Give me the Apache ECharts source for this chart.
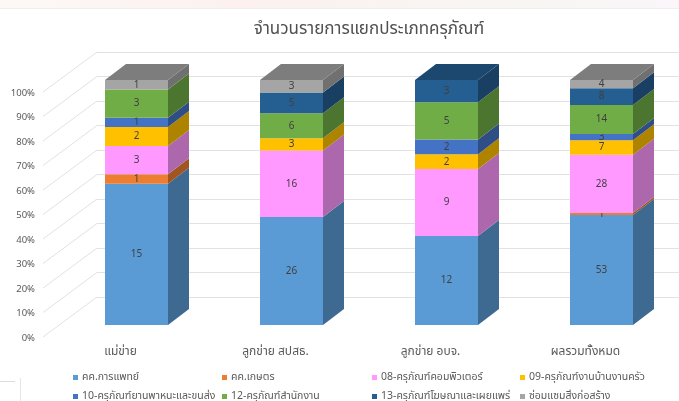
<!DOCTYPE html>
<html><head><meta charset="utf-8">
<style>html,body{margin:0;padding:0;background:#fff}#c{width:679px;height:401px;filter:blur(0.5px)}</style>
<script src="https://cdn.jsdelivr.net/npm/echarts@6/dist/echarts.min.js"></script>
</head><body><div id="c"></div>
<script>
const categories=['แม่ข่าย','ลูกข่าย สปสธ.','ลูกข่าย อบจ.','ผลรวมทั้งหมด'];
const seriesNames=['คค.การแพทย์','คค.เกษตร','08-ครุภัณฑ์คอมพิวเตอร์','09-ครุภัณฑ์งานบ้านงานครัว','10-ครุภัณฑ์ยานพาหนะและขนส่ง','12-ครุภัณฑ์สำนักงาน','13-ครุภัณฑ์โฆษณาและเผยแพร่','ซ่อมแซมสิ่งก่อสร้าง'];
const medical=[15,26,12,53];
const agri=[1,0,0,1];
const computer=[3,16,9,28];
const household=[2,3,2,7];
const vehicle=[1,0,2,3];
const office=[3,6,5,14];
const media=[0,5,3,8];
const repair=[1,3,0,4];
const allValues=[medical,agri,computer,household,vehicle,office,media,repair];
const colors=['#5B9BD5','#ED7D31','#FF99FF','#FFC000','#4472C4','#70AD47','#255E91','#A5A5A5'];
const ticks=[0,10,20,30,40,50,60,70,80,90,100];
const legendPos=[[73,372],[222,372],[372,372],[520,372],[73,391],[222,391],[372,391],[520,391]];
const FONT='"Noto Sans","Noto Sans Thai",Tahoma,sans-serif';
const DX=21,DY=-16,BW=63;
function shade(hex,k){const n=parseInt(hex.slice(1),16);
 const f=s=>Math.round(((n>>s)&255)*k);return `rgb(${f(16)},${f(8)},${f(0)})`;}
const totals=categories.map((_,i)=>allValues.reduce((a,s)=>a+s[i],0));
const lastIdx=categories.map((_,i)=>{let l=0;allValues.forEach((s,k)=>{if(s[i]>0)l=k});return l;});
const barSeries=seriesNames.map((name,k)=>{
 const data=categories.map((_,i)=>{
  let before=0;for(let j=0;j<k;j++)before+=allValues[j][i];
  return [i,before/totals[i]*100,(before+allValues[k][i])/totals[i]*100,allValues[k][i]];
 });
 const c=colors[k];
 return {name,type:'custom',xAxisIndex:0,yAxisIndex:0,z:3+k,data,itemStyle:{color:c},
  encode:{x:0,y:[1,2]},
  renderItem(p,api){
   const i=api.value(0),v=api.value(3);
   if(!v)return null;
   const a=api.coord([i,api.value(1)]),b=api.coord([i,api.value(2)]);
   const l=a[0]-BW/2,r=a[0]+BW/2,y0=a[1],y1=b[1];
   const kids=[
    {type:'polygon',shape:{points:[[r,y0],[r+DX,y0+DY],[r+DX,y1+DY],[r,y1]]},style:{fill:shade(c,0.68)}},
    {type:'rect',shape:{x:l,y:y1,width:BW,height:y0-y1},style:{fill:c}}
   ];
   if(lastIdx[i]===k)kids.push({type:'polygon',shape:{points:[[l,y1],[r,y1],[r+DX,y1+DY],[l+DX,y1+DY]]},style:{fill:shade(c,0.76)}});
   kids.push({type:'text',style:{text:String(v),x:a[0],y:(y0+y1)/2,align:'center',verticalAlign:'middle',fill:'#404040',font:'10px '+FONT}});
   return {type:'group',children:kids};
  }};
});
const sideLines={type:'custom',name:'wall',xAxisIndex:1,yAxisIndex:1,z:1,silent:true,
 data:ticks.map(t=>[0,t]),legendHoverLink:false,
 renderItem(p,api){
  const e=api.coord([0,api.value(1)]);const x=p.coordSys.x;
  return {type:'line',shape:{x1:x-54,y1:e[1]+40,x2:x,y2:e[1]},style:{stroke:'#e2e2e2',lineWidth:1}};
 }};
const chart=echarts.init(document.getElementById('c'),null,{renderer:'canvas'});
chart.setOption({
 animation:false,backgroundColor:'#fff',
 graphic:[
  {type:'rect',z:0,shape:{x:0,y:0,width:679,height:8},style:{fill:new echarts.graphic.LinearGradient(0,0,1,0,[{offset:0,color:'#fdf8f6'},{offset:0.35,color:'#fcf1ef'},{offset:0.8,color:'#f8f6f3'},{offset:1,color:'#faf6fa'}])}},
  {type:'rect',z:0,shape:{x:0,y:8,width:679,height:1},style:{fill:'#eeeeee'}},
  {type:'rect',z:0,shape:{x:0,y:381,width:15,height:1},style:{fill:'#dddddd'}},
  {type:'rect',z:0,shape:{x:20,y:378,width:1,height:23},style:{fill:'#e6e6e6'}}
 ],
 title:{text:'จำนวนรายการแยกประเภทครุภัณฑ์',left:364,top:16,textAlign:'center',
  textStyle:{fontFamily:FONT,fontSize:17,fontWeight:'normal',color:'#505050'}},
 legend:seriesNames.map((n,k)=>({data:[n],left:legendPos[k][0],top:legendPos[k][1],icon:'rect',itemWidth:5,itemHeight:5,itemGap:3,padding:0,
  textStyle:{fontFamily:FONT,fontSize:10.5,color:'#595959',padding:[0,0,0,-1]}})),
 grid:[
  {left:59,width:622,top:80,height:245},
  {left:97,width:582,top:52,height:245},
  {left:41,width:10,top:93,height:245}
 ],
 xAxis:[
  {gridIndex:0,type:'category',data:categories,axisLine:{show:false},axisTick:{show:false},
   axisLabel:{margin:21,padding:[0,32,0,0],fontFamily:FONT,fontSize:12,color:'#595959',interval:0}},
  {gridIndex:1,type:'category',data:[''],show:false},
  {gridIndex:2,type:'category',data:[''],show:false}
 ],
 yAxis:[
  {gridIndex:0,type:'value',min:0,max:100,show:false},
  {gridIndex:1,type:'value',min:0,max:100,interval:10,axisLine:{show:false},axisTick:{show:false},axisLabel:{show:false},
   splitLine:{lineStyle:{color:'#e2e2e2',width:1}}},
  {gridIndex:2,type:'value',min:0,max:100,interval:10,axisLine:{show:false},axisTick:{show:false},splitLine:{show:false},
   axisLabel:{formatter:'{value}%',margin:6,fontFamily:FONT,fontSize:9.5,color:'#595959'}}
 ],
 series:[sideLines,...barSeries]
});
</script></body></html>
